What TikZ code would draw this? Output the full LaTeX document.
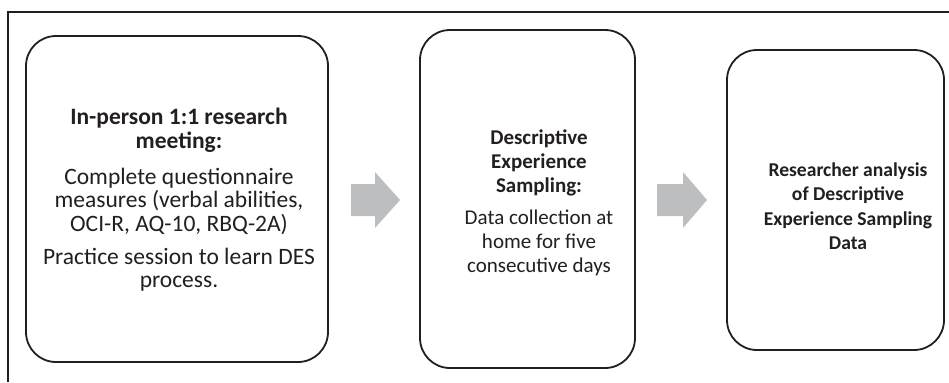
\documentclass[tikz,border=0pt]{standalone}
\usepackage{fontspec}
\setmainfont{Carlito}
\definecolor{ink}{HTML}{231F20}
\definecolor{arrowgray}{HTML}{BCBEC0}
\tikzset{
  stage/.style={draw=ink, line width=1.8bp, rounded corners=30bp, fill=white,
    inner sep=0pt},
  stagetext/.style={inner sep=0pt, align=center, text=ink},
  blockarrow/.style={fill=arrowgray, draw=none},
}
\begin{document}
\begin{tikzpicture}[x=1bp, y=-1bp]
  \useasboundingbox (0,0) rectangle (949,382);
  % open frame: left and top sides only
  \draw[ink, line width=1.1bp] (8,382) -- (8,12) -- (949,12);

  % stage boxes
  \node[stage, minimum width=302bp, minimum height=326bp] (meet) at (177,199) {};
  \node[stage, minimum width=215bp, minimum height=338bp] (des) at (527.5,199) {};
  \node[stage, minimum width=217bp, minimum height=300bp] (ana) at (835.5,200) {};

  % stage texts
  \node[stagetext, font=\fontsize{23.5bp}{23.3bp}\selectfont] (meettext) at (179,200)
    {\textbf{In-person 1:1 research}\\ \textbf{meeting:}\\[13bp]
     Complete questionnaire\\ measures (verbal abilities,\\ OCI-R, AQ-10, RBQ-2A)\\[10bp]
     Practice session to learn DES\\ process.};

  \node[stagetext, font=\fontsize{21bp}{24bp}\selectfont] (destext) at (539,203)
    {\textbf{Descriptive}\\ \textbf{Experience}\\ \textbf{Sampling:}\\[8bp]
     Data collection at\\ home for five\\ consecutive days};

  \node[stagetext, font=\fontsize{19.6bp}{24.5bp}\selectfont\bfseries] (anatext) at (848,206)
    {Researcher analysis\\ of Descriptive\\ Experience Sampling\\ Data};

  % block arrows between the stages
  \foreach \xs/\xm/\xt in {351/375/400, 657/683/707} {
    \fill[blockarrow] (\xs,184) -- (\xm,184) -- (\xm,172) -- (\xt,200)
      -- (\xm,228) -- (\xm,216) -- (\xs,216) -- cycle;
  }
\end{tikzpicture}
\end{document}
